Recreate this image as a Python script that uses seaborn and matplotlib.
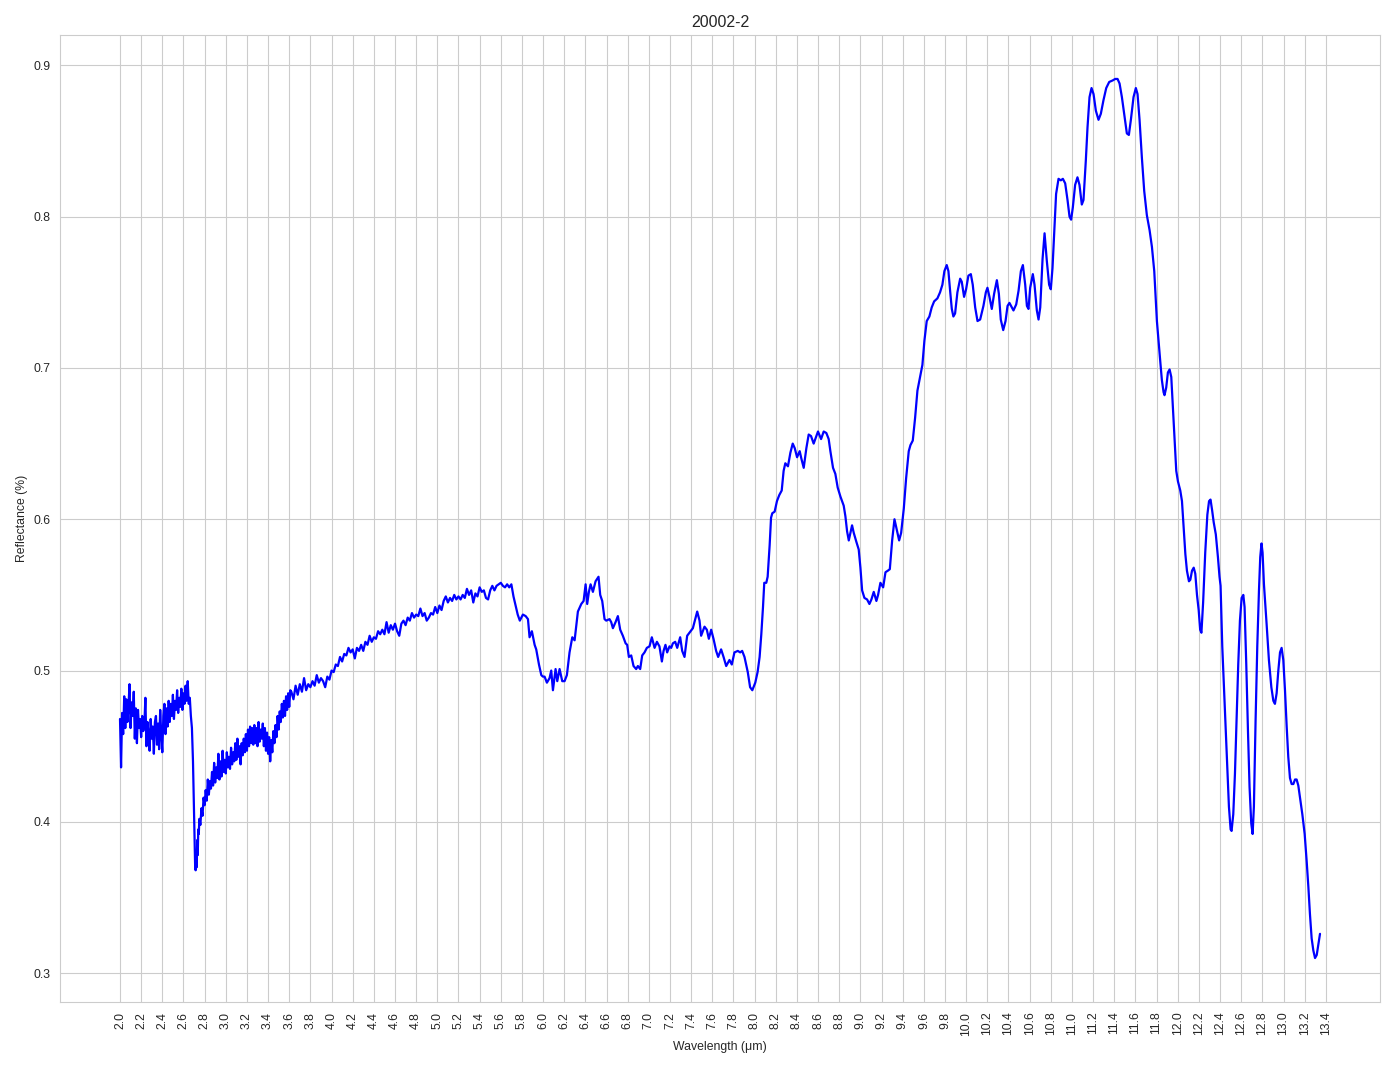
import numpy as np
import pandas as pd
import matplotlib
matplotlib.use("Agg")
import matplotlib.pyplot as plt
import seaborn as sns

# ---------------- data ----------------
# segment A: 2.00 .. 2.69 um, every 0.01 um (noisy part)
refl_a = [
    0.468, 0.436, 0.472, 0.458, 0.483, 0.462, 0.481, 0.466, 0.476, 0.491,
    0.462, 0.479, 0.470, 0.486, 0.455, 0.475, 0.452, 0.474, 0.462, 0.468,
    0.456, 0.470, 0.460, 0.464, 0.482, 0.450, 0.466, 0.458, 0.447, 0.468,
    0.455, 0.463, 0.445, 0.466, 0.470, 0.451, 0.465, 0.448, 0.474, 0.458,
    0.446, 0.470, 0.478, 0.458, 0.475, 0.463, 0.480, 0.466, 0.478, 0.470,
    0.484, 0.468, 0.480, 0.474, 0.487, 0.472, 0.482, 0.476, 0.488, 0.474,
    0.485, 0.478, 0.490, 0.480, 0.493, 0.478, 0.482, 0.470, 0.462, 0.440,
]
# drop near 2.7 um
wl_drop = [2.700, 2.705, 2.710, 2.715, 2.720, 2.725, 2.730, 2.735, 2.740, 2.745, 2.750]
refl_drop = [0.405, 0.385, 0.372, 0.368, 0.380, 0.370, 0.388, 0.378, 0.395, 0.392, 0.402]
# segment B: 2.76 .. 3.61 um, every 0.01 um
refl_b = [
    0.398, 0.409, 0.404, 0.416, 0.411, 0.421, 0.414, 0.428, 0.418, 0.427,
    0.422, 0.433, 0.424, 0.439, 0.426, 0.436, 0.429, 0.445, 0.428, 0.440,
    0.430, 0.447, 0.433, 0.441, 0.432, 0.446, 0.436, 0.443, 0.435, 0.449,
    0.438, 0.446, 0.440, 0.452, 0.441, 0.455, 0.443, 0.450, 0.438, 0.452,
    0.444, 0.455, 0.446, 0.458, 0.447, 0.461, 0.450, 0.463, 0.452, 0.462,
    0.451, 0.464, 0.452, 0.462, 0.450, 0.466, 0.453, 0.461, 0.455, 0.465,
    0.450, 0.462, 0.447, 0.459, 0.445, 0.456, 0.440, 0.454, 0.446, 0.460,
    0.452, 0.464, 0.456, 0.470, 0.461, 0.473, 0.466, 0.478, 0.469, 0.480,
    0.470, 0.483, 0.474, 0.485, 0.476, 0.487,
]
# segment C: 3.62 .. 5.78 um, every 0.02 um
refl_c = [
    0.486, 0.481, 0.490, 0.484, 0.491, 0.486, 0.495, 0.487, 0.491, 0.489,
    0.493, 0.490, 0.497, 0.492, 0.495, 0.493, 0.489, 0.496, 0.494, 0.500,
    0.499, 0.504, 0.503, 0.509, 0.506, 0.511, 0.510, 0.515, 0.512, 0.514,
    0.508, 0.515, 0.513, 0.517, 0.513, 0.519, 0.517, 0.523, 0.519, 0.522,
    0.521, 0.526, 0.524, 0.527, 0.524, 0.532, 0.525, 0.530, 0.527, 0.531,
    0.526, 0.523, 0.531, 0.533, 0.530, 0.535, 0.533, 0.538, 0.535, 0.537,
    0.536, 0.541, 0.536, 0.538, 0.533, 0.535, 0.538, 0.537, 0.542, 0.538,
    0.543, 0.540, 0.546, 0.549, 0.545, 0.548, 0.546, 0.550, 0.547, 0.549,
    0.547, 0.550, 0.548, 0.554, 0.550, 0.553, 0.545, 0.551, 0.549, 0.555,
    0.552, 0.553, 0.548, 0.547, 0.553, 0.556, 0.553, 0.556, 0.557, 0.558,
    0.556, 0.555, 0.557, 0.555, 0.557, 0.549, 0.543, 0.537, 0.533,
]
# segment D: 5.8 .. 8.0 um
wl_d = [
    5.809, 5.835, 5.857, 5.872, 5.894, 5.920, 5.935, 5.961, 5.983, 5.998,
    6.014, 6.036, 6.061, 6.077, 6.093, 6.118, 6.134, 6.156, 6.181, 6.203,
    6.225, 6.250, 6.276, 6.298, 6.329, 6.361, 6.383, 6.402, 6.417, 6.433,
    6.449, 6.471, 6.496, 6.524, 6.540, 6.559, 6.581, 6.597, 6.628, 6.644,
    6.660, 6.685, 6.707, 6.729, 6.754, 6.780, 6.795, 6.811, 6.833, 6.855,
    6.880, 6.896, 6.918, 6.937, 6.959, 6.981, 7.006, 7.028, 7.054, 7.076,
    7.100, 7.123, 7.139, 7.157, 7.173, 7.195, 7.211, 7.227, 7.249, 7.268,
    7.296, 7.315, 7.337, 7.362, 7.384, 7.416, 7.438, 7.457, 7.479, 7.494,
    7.526, 7.548, 7.567, 7.589, 7.611, 7.636, 7.655, 7.683, 7.706, 7.731,
    7.762, 7.784, 7.809, 7.841, 7.863, 7.882, 7.904, 7.935, 7.957, 7.978,
]
refl_d = [
    0.537, 0.536, 0.534, 0.522, 0.526, 0.517, 0.514, 0.504, 0.497, 0.496,
    0.496, 0.492, 0.495, 0.500, 0.487, 0.501, 0.493, 0.501, 0.493, 0.493,
    0.497, 0.512, 0.522, 0.520, 0.539, 0.544, 0.546, 0.557, 0.544, 0.552,
    0.557, 0.552, 0.559, 0.562, 0.550, 0.546, 0.534, 0.533, 0.534, 0.532,
    0.528, 0.532, 0.536, 0.527, 0.523, 0.518, 0.517, 0.509, 0.510, 0.503,
    0.501, 0.503, 0.501, 0.510, 0.512, 0.515, 0.516, 0.522, 0.515, 0.519,
    0.516, 0.506, 0.513, 0.517, 0.512, 0.516, 0.515, 0.518, 0.519, 0.515,
    0.522, 0.513, 0.509, 0.523, 0.525, 0.528, 0.534, 0.539, 0.533, 0.523,
    0.529, 0.527, 0.521, 0.527, 0.521, 0.513, 0.509, 0.514, 0.509, 0.503,
    0.507, 0.504, 0.512, 0.513, 0.512, 0.513, 0.509, 0.499, 0.489, 0.487,
]
# segment E: 8.0 .. 9.48 um
wl_e = [
    8.006, 8.028, 8.047, 8.063, 8.079, 8.091, 8.110, 8.123, 8.142, 8.155,
    8.167, 8.189, 8.211, 8.233, 8.256, 8.274, 8.290, 8.315, 8.338, 8.360,
    8.379, 8.401, 8.426, 8.442, 8.464, 8.489, 8.511, 8.533, 8.558, 8.584,
    8.599, 8.628, 8.653, 8.678, 8.700, 8.716, 8.741, 8.763, 8.785, 8.811,
    8.842, 8.858, 8.874, 8.890, 8.905, 8.921, 8.937, 8.962, 8.984, 9.000,
    9.016, 9.038, 9.063, 9.085, 9.104, 9.126, 9.151, 9.167, 9.189, 9.215,
    9.237, 9.259, 9.278, 9.300, 9.322, 9.341, 9.366, 9.385, 9.410, 9.432,
    9.457, 9.473,
]
refl_e = [
    0.492, 0.499, 0.509, 0.524, 0.542, 0.558, 0.558, 0.562, 0.583, 0.601,
    0.604, 0.605, 0.612, 0.616, 0.619, 0.632, 0.637, 0.635, 0.644, 0.650,
    0.647, 0.641, 0.645, 0.640, 0.634, 0.647, 0.656, 0.655, 0.650, 0.655,
    0.658, 0.653, 0.658, 0.657, 0.653, 0.645, 0.634, 0.630, 0.621, 0.615,
    0.609, 0.602, 0.592, 0.586, 0.591, 0.596, 0.591, 0.585, 0.580, 0.568,
    0.553, 0.548, 0.547, 0.544, 0.547, 0.552, 0.546, 0.550, 0.558, 0.555,
    0.565, 0.566, 0.567, 0.586, 0.600, 0.594, 0.586, 0.591, 0.607, 0.627,
    0.645, 0.649,
]
# segment F: 9.5 .. 10.72 um
wl_f = [
    9.495, 9.517, 9.539, 9.564, 9.586, 9.605, 9.627, 9.652, 9.674, 9.697,
    9.728, 9.753, 9.775, 9.794, 9.816, 9.832, 9.848, 9.864, 9.879, 9.895,
    9.917, 9.943, 9.958, 9.980, 9.999, 10.021, 10.044, 10.062, 10.085, 10.107,
    10.132, 10.163, 10.186, 10.201, 10.220, 10.242, 10.264, 10.290, 10.309, 10.327,
    10.350, 10.372, 10.391, 10.409, 10.432, 10.447, 10.473, 10.495, 10.517, 10.536,
    10.558, 10.574, 10.589, 10.605, 10.630, 10.646, 10.668, 10.684, 10.700, 10.722,
]
refl_f = [
    0.652, 0.667, 0.685, 0.694, 0.702, 0.718, 0.731, 0.734, 0.740, 0.744,
    0.746, 0.750, 0.755, 0.764, 0.768, 0.764, 0.751, 0.739, 0.734, 0.736,
    0.750, 0.759, 0.757, 0.747, 0.752, 0.761, 0.762, 0.755, 0.740, 0.731,
    0.732, 0.741, 0.750, 0.753, 0.747, 0.739, 0.749, 0.758, 0.749, 0.732,
    0.725, 0.731, 0.741, 0.743, 0.740, 0.738, 0.742, 0.751, 0.764, 0.768,
    0.755, 0.741, 0.739, 0.753, 0.762, 0.755, 0.738, 0.732, 0.740, 0.772,
]
# segment G: 10.74 .. 11.80 um
wl_g = [
    10.741, 10.762, 10.784, 10.800, 10.816, 10.835, 10.850, 10.873, 10.895, 10.914,
    10.936, 10.958, 10.977, 10.992, 11.008, 11.030, 11.052, 11.071, 11.093, 11.109,
    11.131, 11.147, 11.166, 11.185, 11.204, 11.226, 11.251, 11.273, 11.298, 11.324,
    11.352, 11.384, 11.409, 11.431, 11.450, 11.472, 11.494, 11.519, 11.538, 11.557,
    11.582, 11.604, 11.620, 11.639, 11.661, 11.683, 11.708, 11.734, 11.756, 11.778,
    11.803,
]
refl_g = [
    0.789, 0.771, 0.755, 0.752, 0.766, 0.793, 0.815, 0.825, 0.824, 0.825,
    0.822, 0.811, 0.800, 0.798, 0.806, 0.821, 0.826, 0.821, 0.808, 0.811,
    0.837, 0.859, 0.879, 0.885, 0.881, 0.870, 0.864, 0.868, 0.877, 0.885,
    0.889, 0.890, 0.891, 0.891, 0.888, 0.879, 0.868, 0.855, 0.854, 0.864,
    0.879, 0.885, 0.881, 0.864, 0.839, 0.817, 0.801, 0.791, 0.780, 0.764,
    0.731,
]
# segment H: 11.82 .. 12.40 um
wl_h = [
    11.818, 11.834, 11.850, 11.866, 11.875, 11.891, 11.907, 11.923, 11.939, 11.954,
    11.970, 11.986, 12.002, 12.024, 12.040, 12.056, 12.072, 12.087, 12.106, 12.119,
    12.135, 12.151, 12.166, 12.182, 12.198, 12.212, 12.224, 12.240, 12.260, 12.280,
    12.296, 12.310, 12.325, 12.340, 12.360, 12.380, 12.395,
]
refl_h = [
    0.718, 0.705, 0.692, 0.684, 0.682, 0.687, 0.697, 0.699, 0.694, 0.674,
    0.652, 0.632, 0.625, 0.619, 0.612, 0.595, 0.577, 0.566, 0.559, 0.560,
    0.566, 0.568, 0.564, 0.550, 0.540, 0.527, 0.525, 0.545, 0.578, 0.603,
    0.612, 0.613, 0.606, 0.598, 0.590, 0.575, 0.562,
]
# segment I: 12.40 .. 13.35 um
wl_i = [
    12.405, 12.421, 12.437, 12.452, 12.468, 12.484, 12.500, 12.509, 12.525, 12.541,
    12.556, 12.572, 12.588, 12.604, 12.620, 12.632, 12.648, 12.664, 12.679, 12.695,
    12.708, 12.720, 12.736, 12.752, 12.768, 12.780, 12.792, 12.802, 12.815, 12.840,
    12.862, 12.885, 12.904, 12.919, 12.935, 12.951, 12.967, 12.982, 12.998, 13.014,
    13.030, 13.045, 13.061, 13.077, 13.093, 13.109, 13.124, 13.140, 13.156, 13.178,
    13.200, 13.219, 13.235, 13.250, 13.266, 13.282, 13.298, 13.314, 13.330, 13.345,
]
refl_i = [
    0.556, 0.516, 0.489, 0.463, 0.436, 0.410, 0.395, 0.394, 0.405, 0.432,
    0.467, 0.504, 0.533, 0.548, 0.550, 0.542, 0.504, 0.460, 0.423, 0.399,
    0.392, 0.410, 0.467, 0.516, 0.553, 0.575, 0.584, 0.578, 0.557, 0.531,
    0.507, 0.489, 0.480, 0.478, 0.485, 0.500, 0.512, 0.515, 0.507, 0.487,
    0.463, 0.443, 0.429, 0.425, 0.425, 0.428, 0.428, 0.424, 0.416, 0.405,
    0.392, 0.374, 0.357, 0.339, 0.323, 0.315, 0.310, 0.312, 0.319, 0.326,
]

x_tick_values = [round(2.0 + 0.2 * k, 1) for k in range(58)]
x_tick_labels = [f"{v:.1f}" for v in x_tick_values]

title_text = "20002-2"
x_label = "Wavelength (μm)"
y_label = "Reflectance (%)"

# ---------------- build table ----------------
wl_a = 2.00 + 0.01 * np.arange(len(refl_a))
wl_b = 2.76 + 0.01 * np.arange(len(refl_b))
wl_c = 3.62 + 0.02 * np.arange(len(refl_c))

wavelength = np.concatenate([wl_a, wl_drop, wl_b, wl_c, wl_d, wl_e, wl_f, wl_g, wl_h, wl_i])
reflectance = np.concatenate([refl_a, refl_drop, refl_b, refl_c, refl_d, refl_e,
                              refl_f, refl_g, refl_h, refl_i])
df = pd.DataFrame({"wavelength": wavelength, "reflectance": reflectance})

# ---------------- plot ----------------
sns.set_style("whitegrid")
plt.rcParams['font.family'] = ['Liberation Sans', 'DejaVu Sans']

W, H = 1394, 1069
fig = plt.figure(figsize=(W / 100, H / 100), dpi=100)
ax = fig.add_axes([60 / W, 1 - 1002 / H, 1320 / W, 967 / H])

sns.lineplot(data=df, x="wavelength", y="reflectance", color="blue",
             linewidth=1.6, estimator=None, sort=False, ax=ax)

ax.set_xticks(x_tick_values)
ax.set_xticklabels(x_tick_labels, rotation=90, fontsize=8.8)
ax.tick_params(axis="y", labelsize=8.8)
ax.set_xlabel(x_label, fontsize=8.8)
ax.set_ylabel(y_label, fontsize=8.8)
ax.set_title(title_text, fontsize=11.5)

fig.savefig("out.png", dpi=100)
